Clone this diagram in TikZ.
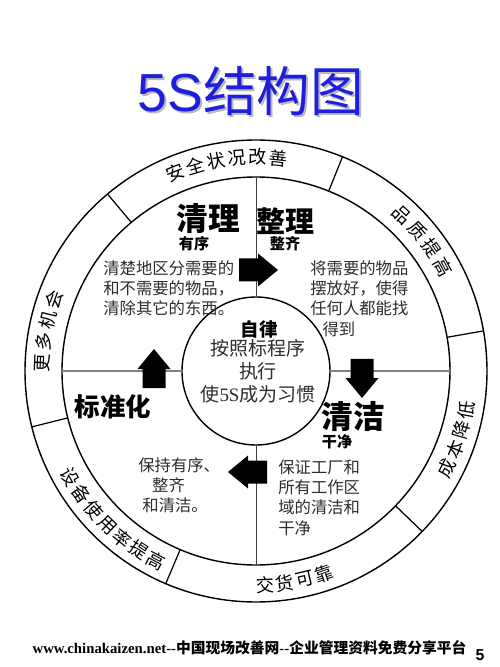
\documentclass[tikz,border=0pt]{standalone}
\usepackage{fontspec}
\usepackage{tikz}
\usetikzlibrary{positioning, calc}
\setmainfont{Liberation Serif}
\newfontfamily\cjk{Noto Sans CJK SC}
\newfontfamily\arial{Liberation Sans}
\definecolor{titleblue}{RGB}{30,30,220}
\definecolor{bodygray}{RGB}{45,45,45}

% characters of a ring label, one by one along the arc
\newcommand\ringlabel[5]{%
  \foreach \ch [count=\i from 0] in {#5}
    \node[ringtext, rotate={#2+\i*(#3)+#4}] (#1-\i) at ({#2+\i*(#3)}:4.28) {\ch};
}

\begin{document}
\begin{tikzpicture}[
  ring/.style={circle, draw, line width=0.8pt, inner sep=0pt, outer sep=0pt},
  head/.style={font=\cjk\bfseries\fontsize{18}{20}\selectfont},
  sub/.style={font=\cjk\bfseries\fontsize{8.6}{10}\selectfont},
  body/.style={font=\cjk\fontsize{9.3}{11.6}\selectfont, text=bodygray, align=left, inner sep=0pt},
  ringtext/.style={font=\cjk\fontsize{10.4}{11}\selectfont, inner sep=0pt},
  divider/.style={line width=0.7pt},
  blockarrow/.pic={\fill (-0.38,-0.23) -- (0,-0.23) -- (0,-0.33) -- (0.4,0) -- (0,0.33) -- (0,0.23) -- (-0.38,0.23) -- cycle;}
]

\useasboundingbox (-5.12,-5.92) rectangle (4.88,7.42);

% title
\node[font=\fontsize{30.5}{33}\selectfont, text=gray!55] (shadow) at (-0.06,5.56) {{\arial 5S}{\cjk 结构图}};
\node[font=\fontsize{30.5}{33}\selectfont, text=titleblue] (title) at (-0.1,5.6) {{\arial 5S}{\cjk 结构图}};

% circles
\node[ring, minimum size=9.24cm] (outer) at (0,0) {};
\node[ring, minimum size=7.76cm] (inner) at (0,0) {};
\node[ring, minimum size=2.96cm] (hub)   at (0,0) {};

\draw[black!75, line width=0.5pt] (inner.north) -- (hub.north);
\draw[black!75, line width=0.5pt] (hub.south) -- (inner.south);
\draw[gray, line width=0.8pt] (inner.west) -- (hub.west);
\draw[gray, line width=0.8pt] (hub.east) -- (inner.east);

\foreach \a in {130,68,10,316,247,194}
  \draw[divider] (inner.\a) -- (outer.\a);

% ring labels
\ringlabel{anquan}{112}{-5.6}{-90}{安,全,状,况,改,善}
\ringlabel{pinzhi}{47}{-6}{-90}{品,质,提,高}
\ringlabel{chengben}{-27}{5.5}{90}{成,本,降,低}
\ringlabel{jiaohuo}{-87.6}{5.4}{90}{交,货,可,靠}
\ringlabel{shebei}{209.8}{5.4}{90}{设,备,使,用,率,提,高}
\ringlabel{jihui}{177.8}{-5.8}{-90}{更,多,机,会}

% the four steps
\node[head] (qingli) at (-0.96,3.04) {清理};
\node[sub] (youxu) at (-1.24,2.54) {有序};
\node[head, font=\cjk\bfseries\fontsize{16.5}{18}\selectfont] (zhengli) at (0.58,3.0) {整理};
\node[sub] (zhengqi) at (0.58,2.54) {整齐};
\node[head, font=\cjk\bfseries\fontsize{14.5}{16}\selectfont] (biaozhun) at (-2.86,-0.72) {标准化};
\node[head] (qingjie) at (1.94,-0.9) {清洁};
\node[sub] (ganjing) at (1.62,-1.42) {干净};

\node[body, anchor=north west] (qingli-txt) at (-3.06,2.22)
  {清楚地区分需要的\\和不需要的物品，\\清除其它的东西。};
\node[body, anchor=north west] (zhengli-txt) at (1.08,2.22)
  {将需要的物品\\摆放好，使得\\任何人都能找\\\hspace*{0.75em}得到};
\node[body, anchor=north west] (biaozhun-txt) at (-2.36,-1.72)
  {保持有序、\\\hspace*{0.85em}整齐\\\hspace*{0.25em}和清洁。};
\node[body, anchor=north west] (qingjie-txt) at (0.44,-1.76)
  {保证工厂和\\所有工作区\\域的清洁和\\干净};

% hub
\node[font=\cjk\bfseries\fontsize{10.5}{12}\selectfont] (zilv) at (0.06,0.84) {自律};
\node[body, align=center, font=\cjk\fontsize{10.8}{13}\selectfont] (zilv-txt) at (0.04,0.0)
  {按照标程序\\执行\\使{\rmfamily 5S}成为习惯};

% block arrows
\pic at (0.04,2.02) {blockarrow};
\pic[rotate=-90] at (2.12,-0.14) {blockarrow};
\pic[rotate=180] at (-0.16,-2.02) {blockarrow};
\pic[rotate=90] at (-2.04,0.04) {blockarrow};

% footer
\node[font=\bfseries\fontsize{8.4}{10}\selectfont] (footer) at (-0.13,-5.54)
  {www.chinakaizen.net-{}-{\cjk 中国现场改善网}-{}-{\cjk 企业管理资料免费分享平台}};
\node[font=\arial\bfseries\fontsize{9}{10}\selectfont] (page) at (4.48,-5.68) {5};
\end{tikzpicture}
\end{document}
